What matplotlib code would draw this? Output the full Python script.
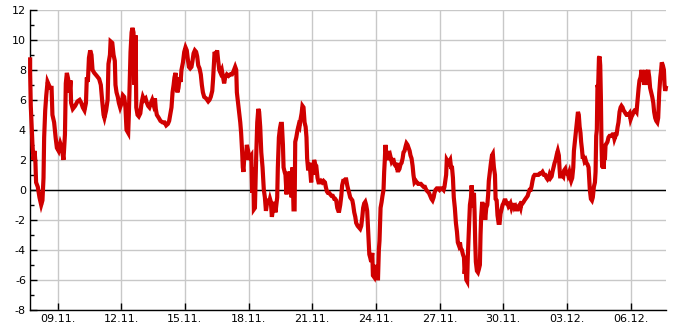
import numpy as np
import pandas as pd
import matplotlib
matplotlib.use("Agg")
import matplotlib.pyplot as plt
import matplotlib.dates as mdates
from matplotlib.ticker import MultipleLocator

# Tage seit 09.11. 00:00 und Temperatur (°C)
days = [
    -1.29, -1.29, -1.26, -1.21, -1.18, -1.13, -1.08, -1.04, -1.01, -0.93, -0.85, -0.77, -0.71, -0.66,
    -0.63, -0.58, -0.53, -0.47, -0.41, -0.35, -0.28, -0.24, -0.16, -0.09, -0.03, 0.05, 0.13, 0.20,
    0.28, 0.35, 0.39, 0.44, 0.50, 0.57, 0.61, 0.64, 0.72, 0.83, 0.94, 1.04, 1.12, 1.19, 1.27, 1.34,
    1.38, 1.43, 1.48, 1.54, 1.60, 1.65, 1.73, 1.85, 1.96, 2.04, 2.10, 2.17, 2.21, 2.29, 2.36, 2.40,
    2.47, 2.50, 2.58, 2.64, 2.70, 2.73, 2.78, 2.84, 2.89, 2.95, 3.02, 3.08, 3.14, 3.20, 3.25, 3.33,
    3.36, 3.39, 3.44, 3.49, 3.53, 3.58, 3.63, 3.68, 3.71, 3.77, 3.83, 3.90, 3.96, 4.02, 4.08, 4.15,
    4.21, 4.27, 4.33, 4.40, 4.46, 4.52, 4.59, 4.63, 4.68, 4.77, 4.85, 4.95, 5.04, 5.12, 5.20, 5.26,
    5.31, 5.37, 5.42, 5.47, 5.51, 5.56, 5.61, 5.65, 5.70, 5.75, 5.80, 5.84, 5.91, 5.97, 6.03, 6.09,
    6.14, 6.19, 6.25, 6.31, 6.36, 6.41, 6.47, 6.53, 6.58, 6.63, 6.69, 6.75, 6.80, 6.85, 6.91, 7.00,
    7.10, 7.16, 7.22, 7.29, 7.33, 7.37, 7.40, 7.46, 7.52, 7.57, 7.62, 7.68, 7.74, 7.81, 7.85, 7.90,
    7.98, 8.06,
    8.14, 8.22, 8.29, 8.37, 8.42, 8.45, 8.53, 8.61, 8.65, 8.70, 8.73, 8.76, 8.81, 8.87, 8.92, 8.98,
    9.03, 9.08, 9.13, 9.17, 9.22, 9.25, 9.30, 9.36, 9.41, 9.46, 9.50, 9.55, 9.60, 9.66, 9.72, 9.77,
    9.82, 9.86, 9.91, 9.96, 10.01, 10.05, 10.10, 10.15, 10.21, 10.27, 10.30, 10.35, 10.38, 10.43,
    10.48, 10.52, 10.57, 10.62, 10.65, 10.70, 10.74, 10.79, 10.84, 10.89, 10.93, 10.98, 11.03, 11.07,
    11.12, 11.17, 11.20, 11.25, 11.31, 11.36, 11.40, 11.45, 11.50, 11.54, 11.59, 11.64, 11.69, 11.73,
    11.76, 11.81, 11.86, 11.91, 11.95, 12.00, 12.05, 12.09, 12.14, 12.19, 12.22, 12.25, 12.30, 12.35,
    12.41, 12.47, 12.53, 12.60, 12.64, 12.69, 12.74, 12.80, 12.85, 12.91, 12.97, 13.04, 13.08, 13.13,
    13.18, 13.23, 13.27, 13.32, 13.37, 13.41, 13.46, 13.51, 13.56, 13.60, 13.65, 13.70, 13.74, 13.79,
    13.84, 13.89, 13.93, 13.98, 14.03, 14.07, 14.14, 14.20, 14.26, 14.31, 14.36, 14.40, 14.45, 14.50,
    14.54, 14.59, 14.64, 14.69, 14.73, 14.78, 14.83, 14.86, 14.91, 14.95, 15.00, 15.05, 15.10, 15.14,
    15.17, 15.22, 15.27, 15.31, 15.36, 15.39, 15.42, 15.45, 15.50, 15.55, 15.60, 15.64, 15.69, 15.74,
    15.78, 15.83, 15.88, 15.93, 15.97, 16.02, 16.07, 16.11, 16.16, 16.21, 16.26, 16.30, 16.35, 16.40,
    16.44, 16.49, 16.54, 16.59, 16.63, 16.68, 16.73, 16.77, 16.82, 16.88, 16.93, 16.99, 17.06, 17.12,
    17.18, 17.25, 17.31, 17.37, 17.43, 17.50, 17.56, 17.62, 17.67, 17.72, 17.76, 17.81, 17.87, 17.94,
    18.00, 18.06, 18.13, 18.19, 18.23,
    18.31, 18.34, 18.42, 18.50, 18.55, 18.58, 18.63, 18.67, 18.72, 18.77, 18.82, 18.86, 18.91, 18.96,
    19.00, 19.05, 19.10, 19.15, 19.18, 19.22, 19.26, 19.30, 19.33, 19.37, 19.40, 19.43, 19.48, 19.51,
    19.55, 19.59, 19.62, 19.65, 19.68, 19.71, 19.76, 19.81, 19.85, 19.90, 19.93, 19.96, 20.01, 20.06,
    20.10, 20.15, 20.20, 20.25, 20.29, 20.32, 20.37, 20.42, 20.47, 20.51, 20.56, 20.61, 20.64, 20.69,
    20.73, 20.78, 20.83, 20.87, 20.92, 20.97, 21.01, 21.06, 21.11, 21.16, 21.20, 21.25, 21.30, 21.34,
    21.39, 21.44, 21.49, 21.53, 21.58, 21.63, 21.67, 21.72, 21.77, 21.82, 21.86, 21.91, 21.96, 22.00,
    22.05, 22.10, 22.15, 22.19, 22.24, 22.29, 22.33, 22.38, 22.43, 22.48, 22.54, 22.60, 22.66, 22.73,
    22.79, 22.85, 22.92, 22.98, 23.04, 23.09, 23.14, 23.18, 23.23, 23.28, 23.32, 23.37, 23.42, 23.47,
    23.53, 23.57, 23.62, 23.65, 23.68, 23.73, 23.78, 23.83, 23.87, 23.92, 23.97, 24.01, 24.06, 24.11,
    24.16, 24.20, 24.25, 24.30, 24.33, 24.38, 24.42, 24.47, 24.52, 24.56, 24.60, 24.64, 24.67, 24.71,
    24.74, 24.78, 24.83, 24.88, 24.92, 24.97, 25.02, 25.05, 25.08, 25.13, 25.18, 25.22, 25.27, 25.32,
    25.35, 25.38, 25.41, 25.44, 25.47, 25.51, 25.54, 25.57, 25.60, 25.63, 25.66, 25.69, 25.73, 25.76,
    25.79, 25.82, 25.87, 25.91, 25.96, 26.01, 26.06, 26.10, 26.15, 26.20, 26.24, 26.29, 26.34, 26.39,
    26.43, 26.48, 26.53, 26.57, 26.62, 26.67, 26.72, 26.76, 26.81, 26.86, 26.90, 26.95, 27.00, 27.05,
    27.09, 27.14, 27.19, 27.23, 27.28, 27.33, 27.38, 27.42, 27.47, 27.52, 27.55, 27.60, 27.64, 27.69,
    27.74, 27.78, 27.83, 27.88, 27.92, 27.97, 28.02, 28.07, 28.11, 28.16, 28.21, 28.26, 28.30, 28.35,
    28.40, 28.44, 28.47, 28.52, 28.57, 28.60, 28.63, 28.66,
]

temps = [
    8.7, 7.8, 5.6, 4.0, 3.0, 2.0, 2.6, 1.8, 0.5, 0.2, -0.5, -1.0, -0.7, 0.8,
    3.5, 5.3, 6.3, 7.2, 7.0, 6.8, 6.8, 5.0, 4.5, 3.5, 2.8, 2.6, 3.1, 2.8,
    2.0, 3.7, 7.1, 7.8, 7.4, 6.5, 7.3, 5.8, 5.4, 5.6, 5.9, 6.0, 5.8, 5.5, 5.3, 5.8,
    7.5, 7.2, 8.8, 9.3, 9.0, 8.0, 7.8, 7.6, 7.4, 7.0, 6.0, 5.0, 4.8, 5.3, 6.0, 8.4,
    9.0, 9.9, 9.8, 9.0, 8.6, 7.0, 6.5, 6.2, 5.8, 5.5, 5.8, 6.3, 6.2, 5.5, 4.0, 3.8,
    5.0, 6.5, 9.2, 10.5, 10.8, 10.5, 7.0, 10.3, 5.5, 5.0, 4.9, 5.1, 5.8, 6.2, 6.0, 6.1,
    5.8, 5.6, 5.5, 5.8, 6.0, 5.7, 6.1, 5.4, 5.0, 4.8, 4.6, 4.5, 4.5, 4.3, 4.4, 4.6,
    5.0, 5.5, 6.5, 7.0, 7.5, 7.8, 6.8, 6.5, 6.8, 7.5, 7.2, 8.0, 8.5, 9.2, 9.5, 9.3,
    8.7, 8.2, 8.1, 8.2, 8.6, 9.1, 9.3, 9.2, 8.9, 8.3, 8.1, 7.7, 7.0, 6.5, 6.2, 6.1,
    5.9, 6.0, 6.2, 6.6, 7.4, 8.5, 9.2, 9.0, 9.3, 8.6, 8.0, 7.8, 8.0, 7.4, 7.1, 7.5,
    7.7, 7.6,
    7.7, 7.7, 7.9, 8.2, 8.0, 6.5, 5.5, 4.5, 3.8, 2.5, 1.5, 1.2, 2.5, 2.0, 3.0, 2.6,
    2.0, 2.2, 2.3, -0.2, 1.5, -1.3, -1.2, 2.2, 4.5, 5.4, 5.2, 4.2, 2.5, 1.5, 0.0, -0.5,
    -1.4, -1.0, -0.6, -0.9, -0.6, -0.8, -1.8, -1.3, -0.8, -1.5, -1.1, -0.5, 1.5, 3.5,
    4.1, 4.4, 4.4, 3.0, 1.5, 1.2, 1.0, -0.3, 1.2, 0.8, 1.2, 1.0, -0.5, 1.5,
    -1.3, -1.3, 3.2, 3.5, 4.0, 4.3, 4.2, 4.7, 5.1, 5.6, 5.5, 4.5, 4.2, 3.5,
    2.1, 1.3, 1.8, 1.2, 0.5, 1.8, 1.0, 2.0, 1.7, 1.6, 1.2, 0.8, 0.5, 0.5,
    0.6, 0.5, 0.6, 0.5, 0.2, -0.1, -0.2, -0.2, -0.3, -0.4, -0.4, -0.6, -0.6, -0.7,
    -1.2, -1.4, -1.4, -1.0, -0.4, 0.3, 0.6, 0.6, 0.7, 0.7, 0.3, 0.0, -0.2, -0.5,
    -0.6, -0.7, -1.0, -1.5, -1.8, -2.2, -2.4, -2.5, -2.6, -2.4, -1.8, -1.2, -0.9, -0.8,
    -1.0, -1.4, -2.8, -4.3, -4.5, -4.8, -4.2, -5.7, -5.8, -5.0, -5.7, -5.9, -5.9, -4.0,
    -3.4, -1.2, -0.8, -0.4, 0.0, 1.2, 2.0, 3.0, 2.2, 2.0, 2.6, 2.0, 2.2, 1.9,
    2.0, 2.0, 1.7, 1.6, 1.8, 1.3, 1.3, 1.4, 1.7, 1.8, 2.1, 2.5, 2.6, 2.9,
    3.1, 3.0, 2.8, 2.6, 2.3, 2.1, 1.6, 1.0, 0.5, 0.6, 0.5, 0.4, 0.4, 0.4,
    0.3, 0.2, 0.2, 0.0, -0.1, -0.2, -0.4, -0.6, -0.7, -0.5, -0.2, 0.0, 0.1, 0.1,
    0.0, 0.1, 0.1, 0.0, 0.2,
    1.0, 2.0, 1.8, 2.0, 1.4, 1.6, 0.8, -0.5, -1.2, -2.2, -2.8, -3.5, -3.7, -3.5,
    -3.9, -4.0, -4.3, -4.5, -5.6, -5.0, -6.0, -6.1, -4.5, -3.0, -2.0, -1.0, -0.5, 0.3,
    -0.5, -1.2, -0.2, -1.5, -3.5, -4.8, -5.4, -5.5, -5.3, -5.0, -3.0, -1.8, -0.8, -1.4,
    -0.9, -2.0, -1.2, -1.0, -0.3, 0.6, 1.2, 1.8, 2.3, 2.4, 1.5, 1.0, -0.6, -0.7,
    -1.7, -2.2, -2.2, -1.6, -1.3, -1.0, -0.9, -0.7, -0.7, -0.9, -0.9, -1.1, -1.0, -0.9,
    -1.2, -1.0, -1.0, -1.2, -1.1, -1.3, -1.3, -1.1, -1.0, -1.2, -0.9, -0.9, -0.8, -0.7,
    -0.6, -0.5, -0.4, -0.2, 0.0, 0.0, 0.2, 0.6, 0.9, 1.0, 1.0, 1.0, 1.0, 1.1,
    1.1, 1.2, 1.0, 1.0, 0.8, 0.7, 0.8, 1.0, 0.8, 0.9, 1.2, 1.5, 1.8, 2.0,
    2.4, 2.6, 2.3, 1.5, 0.9, 0.9, 1.0, 0.9, 1.3, 1.4, 1.0, 1.3, 1.0, 1.2,
    0.8, 0.6, 0.8, 1.5, 2.6, 3.3, 3.8, 4.5, 5.2, 5.0, 4.2, 3.8, 3.2, 2.7,
    2.2, 2.2, 1.9, 2.0, 1.8, 1.7, 1.5, 0.7, 0.0, -0.6, -0.7, -0.5, 0.2, 0.5,
    1.2, 3.6, 4.0, 7.0, 6.8, 8.8, 8.9, 8.3, 6.2, 3.0, 1.5, 2.2, 1.4, 2.2,
    2.0, 3.0, 3.1, 3.2, 3.5, 3.6, 3.6, 3.6, 3.7, 3.7, 3.4, 3.6, 3.7, 4.2,
    4.5, 5.2, 5.5, 5.6, 5.5, 5.3, 5.2, 5.1, 5.0, 5.0, 5.0, 5.1, 4.7, 4.9,
    5.0, 5.2, 5.3, 5.3, 5.2, 6.0, 6.8, 7.3, 7.5, 8.0, 7.2, 7.8, 7.0, 8.0,
    7.0, 7.6, 8.0, 7.5, 6.8, 6.5, 6.2, 5.8, 5.2, 4.8, 4.6, 4.5, 4.8, 6.5,
    7.5, 8.0, 8.5, 8.3, 8.0, 7.0, 6.6, 6.8,
]

start = pd.Timestamp("2021-11-09")
tick_dates = pd.date_range("2021-11-09", periods=10, freq="3D")
y_ticks = np.arange(-8, 13, 2)

plt.rcParams['font.family'] = ['DejaVu Sans']
plt.rcParams['axes.unicode_minus'] = False

times = start + pd.to_timedelta(np.array(days), unit="D")

fig = plt.figure(figsize=(6.85, 3.3), dpi=100)
ax = fig.add_axes([0.044, 0.061, 0.928, 0.909])

ax.plot(times, temps, color='#d00000', lw=3.0, solid_joinstyle='miter',
        clip_on=False, zorder=3)
ax.axhline(0, color='black', lw=1.0, zorder=2)

ax.set_xlim(times[0], times[-1])
ax.set_ylim(-8, 12)
ax.set_yticks(y_ticks)
ax.yaxis.set_minor_locator(MultipleLocator(1))
ax.set_xticks(tick_dates)
ax.xaxis.set_major_formatter(mdates.DateFormatter('%d.%m.'))

ax.grid(True, which='major', color='#c8c8c8', lw=1.0, zorder=0)
ax.set_axisbelow(True)
for s in ['top', 'right']:
    ax.spines[s].set_visible(False)
for s in ['left', 'bottom']:
    ax.spines[s].set_color('black')
    ax.spines[s].set_linewidth(1.0)

ax.tick_params(axis='both', which='major', direction='in', length=5, width=1,
               labelsize=8, colors='black')
ax.tick_params(axis='y', which='minor', direction='in', length=3, width=1)
ax.tick_params(axis='x', pad=3)
ax.tick_params(axis='y', pad=3)

fig.savefig('out.png', dpi=100)
